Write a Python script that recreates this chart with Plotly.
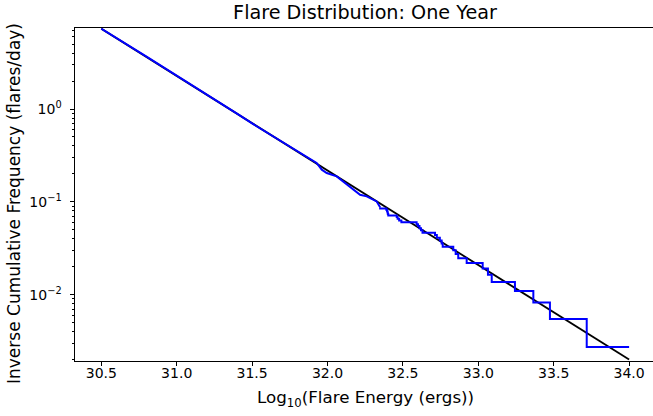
import plotly.graph_objects as go

# ---- data ----
days = 365.0

# smooth (high-count) part of the observed inverse cumulative distribution
upper_energy = [30.50, 30.60, 30.70, 30.80, 30.90, 31.00, 31.10, 31.20, 31.30,
                31.40, 31.50, 31.60, 31.70, 31.80, 31.90, 31.928, 31.962,
                31.995, 32.061, 32.105, 32.127, 32.171, 32.216, 32.260,
                32.283, 32.326, 32.349]
upper_freq = [7.33, 5.85, 4.62, 3.66, 2.90, 2.30, 1.80, 1.42, 1.13,
              0.89, 0.70, 0.556, 0.440, 0.350, 0.276, 0.262, 0.222,
              0.2046, 0.188, 0.166, 0.153, 0.135, 0.119, 0.1145,
              0.110, 0.101, 0.0877]

# individual flares at the high-energy end (cumulative counts over one year)
step_counts = [32, 31, 30, 29, 28, 27, 26, 25, 24, 23, 22, 21, 20, 19, 18, 17,
               16, 15, 14, 13, 12, 11, 10, 9, 8, 7, 6, 5, 4, 3, 2, 1]
step_energy = [32.349, 32.390, 32.395, 32.398, 32.400, 32.403, 32.459, 32.465,
               32.475, 32.490, 32.591, 32.600, 32.610, 32.620, 32.630, 32.713,
               32.725, 32.745, 32.757, 32.764, 32.834, 32.850, 32.867, 32.923,
               33.029, 33.064, 33.089, 33.243, 33.365, 33.475, 33.719, 34.000]

# power-law fit line
fit_energy = [30.5, 34.0]
fit_freq = [7.33, 0.0020]

x_ticks = [30.5, 31.0, 31.5, 32.0, 32.5, 33.0, 33.5, 34.0]
y_ticks = [1e-2, 1e-1, 1e0]
y_tick_text = ["10<sup>\u22122</sup>", "10<sup>\u22121</sup>", "10<sup>0</sup>"]

step_freq = [c / days for c in step_counts]
minor_y = [m * 10.0 ** e for e in (-3, -2, -1, 0) for m in range(2, 10)]

FONT = "DejaVu Sans"
BLUE = "#0000ff"
W, H = 653, 416
L, R, T, B = 75, 0, 28, 55

fig = go.Figure()
fig.add_trace(go.Scatter(x=fit_energy, y=fit_freq, mode="lines",
                         line=dict(color="black", width=1.8), showlegend=False))
fig.add_trace(go.Scatter(x=upper_energy, y=upper_freq, mode="lines",
                         line=dict(color=BLUE, width=2), showlegend=False))
fig.add_trace(go.Scatter(x=step_energy, y=step_freq, mode="lines",
                         line=dict(color=BLUE, width=2, shape="vh"), showlegend=False))

fig.update_layout(
    width=W, height=H,
    margin=dict(l=L, r=R, t=T, b=B, autoexpand=False),
    paper_bgcolor="white", plot_bgcolor="white",
    font=dict(family=FONT, size=14, color="black"),
    title=dict(text="Flare Distribution: One Year", x=365 / W, xanchor="center",
               y=1 - 12 / H, yanchor="middle", yref="container",
               font=dict(size=19.2, family=FONT, color="black")),
    annotations=[
        dict(text="Log<sub>10</sub>(Flare Energy (ergs))", xref="paper", yref="paper",
             x=(365 - L) / (W - L - R), y=-(398 - (H - B)) / (H - T - B),
             xanchor="center", yanchor="middle", showarrow=False,
             font=dict(size=16.7, family=FONT, color="black")),
        dict(text="Inverse Cumulative Frequency (flares/day)", xref="paper", yref="paper",
             x=-(L - 14) / (W - L - R), y=((H - B) - 204) / (H - T - B),
             xanchor="center", yanchor="middle", textangle=-90, showarrow=False,
             font=dict(size=17, family=FONT, color="black")),
    ],
)
fig.update_xaxes(range=[30.3256, 34.1585], showgrid=False, zeroline=False,
                 automargin=False,
                 showline=True, linecolor="black", linewidth=1.1, mirror=True,
                 ticks="outside", ticklen=3.5, tickwidth=1, tickcolor="black",
                 tickvals=x_ticks, ticktext=[f"{v:.1f}" for v in x_ticks],
                 tickfont=dict(size=14), ticklabelstandoff=-4)
fig.update_yaxes(type="log", range=[-2.714, 0.8724], showgrid=False, zeroline=False,
                 automargin=False,
                 showline=True, linecolor="black", linewidth=1.1,
                 ticks="outside", ticklen=3.5, tickwidth=1, tickcolor="black",
                 tickvals=y_ticks, ticktext=y_tick_text, tickfont=dict(size=14),
                 ticklabelstandoff=6,
                 minor=dict(tickvals=minor_y, ticks="outside", ticklen=2,
                            tickcolor="black", tickwidth=0.8, showgrid=False))

fig.write_html("out.html", config={"displayModeBar": False},
               post_script="document.body.style.margin='0';document.body.style.overflow='hidden';")
